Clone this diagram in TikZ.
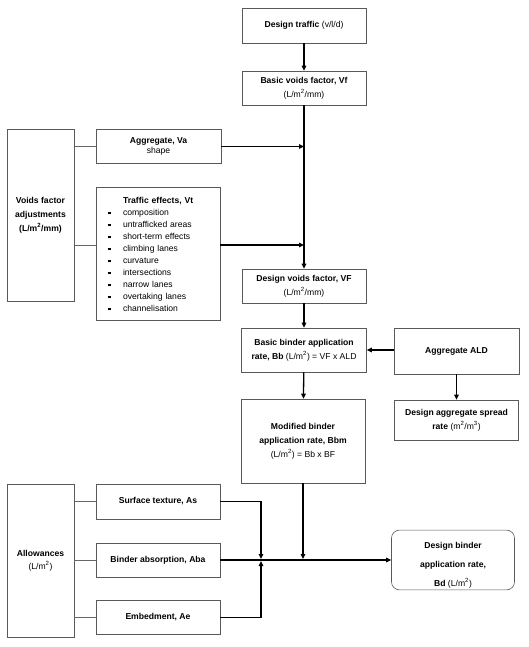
\documentclass[tikz,border=0pt]{standalone}
\usepackage{fontspec}
\setmainfont{Liberation Sans}
\usetikzlibrary{arrows.meta}
\tikzset{box/.style={draw=black!65,line width=0.6pt,align=center,inner sep=2pt,font=\fontsize{8.6}{14}\selectfont},
arr/.style={line width=1.3pt,-{Triangle[length=5pt,width=4.5pt]}},
link/.style={draw=black!60,line width=0.6pt}}
\newcommand{\sqb}{\rule[0.6pt]{2.7pt}{2.7pt}}
\newcommand{\msq}{m\textsuperscript{2}}
\begin{document}
\begin{tikzpicture}[x=1pt,y=-1pt]
\useasboundingbox(0,0)rectangle(529,647);
\node[box,minimum width=124,minimum height=35](traffic)at(304,25.5){\textbf{Design traffic} (v/l/d)};
\node[box,minimum width=124,minimum height=34](bvf)at(304,88){\textbf{Basic voids factor, Vf}\\(L/\msq/mm)};
\node[box,minimum width=67,minimum height=172](adj)at(40.5,215.5){\textbf{Voids factor}\\\textbf{adjustments}\\\textbf{(L/\msq/mm)}};
\node[box,minimum width=125,minimum height=34,font=\fontsize{8.6}{10}\selectfont](agg)at(158.5,146.5){\textbf{Aggregate, Va}\\shape};
\node[box,minimum width=124,minimum height=133,text width=100pt,align=left,font=\fontsize{8.6}{12}\selectfont](teff)at(158,254){\hspace*{15pt}\textbf{Traffic effects, Vt}\\
\makebox[15pt][l]{\sqb}composition\\
\makebox[15pt][l]{\sqb}untrafficked areas\\
\makebox[15pt][l]{\sqb}short-term effects\\
\makebox[15pt][l]{\sqb}climbing lanes\\
\makebox[15pt][l]{\sqb}curvature\\
\makebox[15pt][l]{\sqb}intersections\\
\makebox[15pt][l]{\sqb}narrow lanes\\
\makebox[15pt][l]{\sqb}overtaking lanes\\
\makebox[15pt][l]{\sqb}channelisation};
\node[box,minimum width=124,minimum height=34](dvf)at(304,286){\textbf{Design voids factor, VF}\\(L/\msq/mm)};
\node[box,minimum width=125,minimum height=44](bb)at(304,350){\textbf{Basic binder application}\\\textbf{rate, Bb} (L/\msq) = VF x ALD};
\node[box,minimum width=125,minimum height=46](ald)at(456.5,351){\textbf{Aggregate ALD}};
\node[box,minimum width=124,minimum height=40](das)at(456.5,420){\textbf{Design aggregate spread}\\\textbf{rate} (\msq/m\textsuperscript{3})};
\node[box,minimum width=124,minimum height=84](bbm)at(303,441){\textbf{Modified binder}\\\textbf{application rate, Bbm}\\(L/\msq) = Bb x BF};
\node[box,minimum width=123,minimum height=58,rounded corners=8pt,font=\fontsize{8.6}{19}\selectfont](dbr)at(453,560){\rule{0pt}{16pt}\textbf{Design binder}\\\textbf{application rate,}\\\textbf{Bd} (L/\msq)};
\node[box,minimum width=67,minimum height=153,font=\fontsize{8.6}{13}\selectfont](allow)at(40.5,560.5){\textbf{Allowances}\\(L/\msq)};
\node[box,minimum width=124,minimum height=35](tex)at(158,501.5){\textbf{Surface texture, As}};
\node[box,minimum width=124,minimum height=34](abs)at(158,560){\textbf{Binder absorption, Aba}};
\node[box,minimum width=124,minimum height=34](emb)at(158,617.5){\textbf{Embedment, Ae}};
\coordinate(tein)at([yshift=9pt]teff.west);
\coordinate(teout)at([yshift=9pt]teff.east);
\coordinate(jx)at(261,0);
\draw[link](adj.east|-agg)--(agg.west);
\draw[link](adj.east|-tein)--(tein);
\draw[link](allow.east|-tex)--(tex.west);
\draw[link](allow.east|-abs)--(abs.west);
\draw[link](allow.east|-emb)--(emb.west);
\draw[arr](traffic)--(bvf);
\draw[arr](bvf)--(dvf);
\draw[arr](agg.east)--(agg.east-|bvf.south);
\draw[arr](teout)--(teout-|bvf.south);
\draw[arr](dvf)--(bb);
\draw[arr](ald.west|-bb)--(bb.east);
\draw[arr](ald)--(das);
\draw[arr](bb)--(bbm);
\draw[arr](abs.east)--(abs.east-|dbr.west);
\draw[arr,shorten >=1pt](tex.east)-|(jx|-abs.east);
\draw[arr,shorten >=1pt](emb.east)-|(jx|-abs.east);
\draw[arr,shorten >=1pt](bbm)--(bbm|-abs.east);
\end{tikzpicture}
\end{document}
